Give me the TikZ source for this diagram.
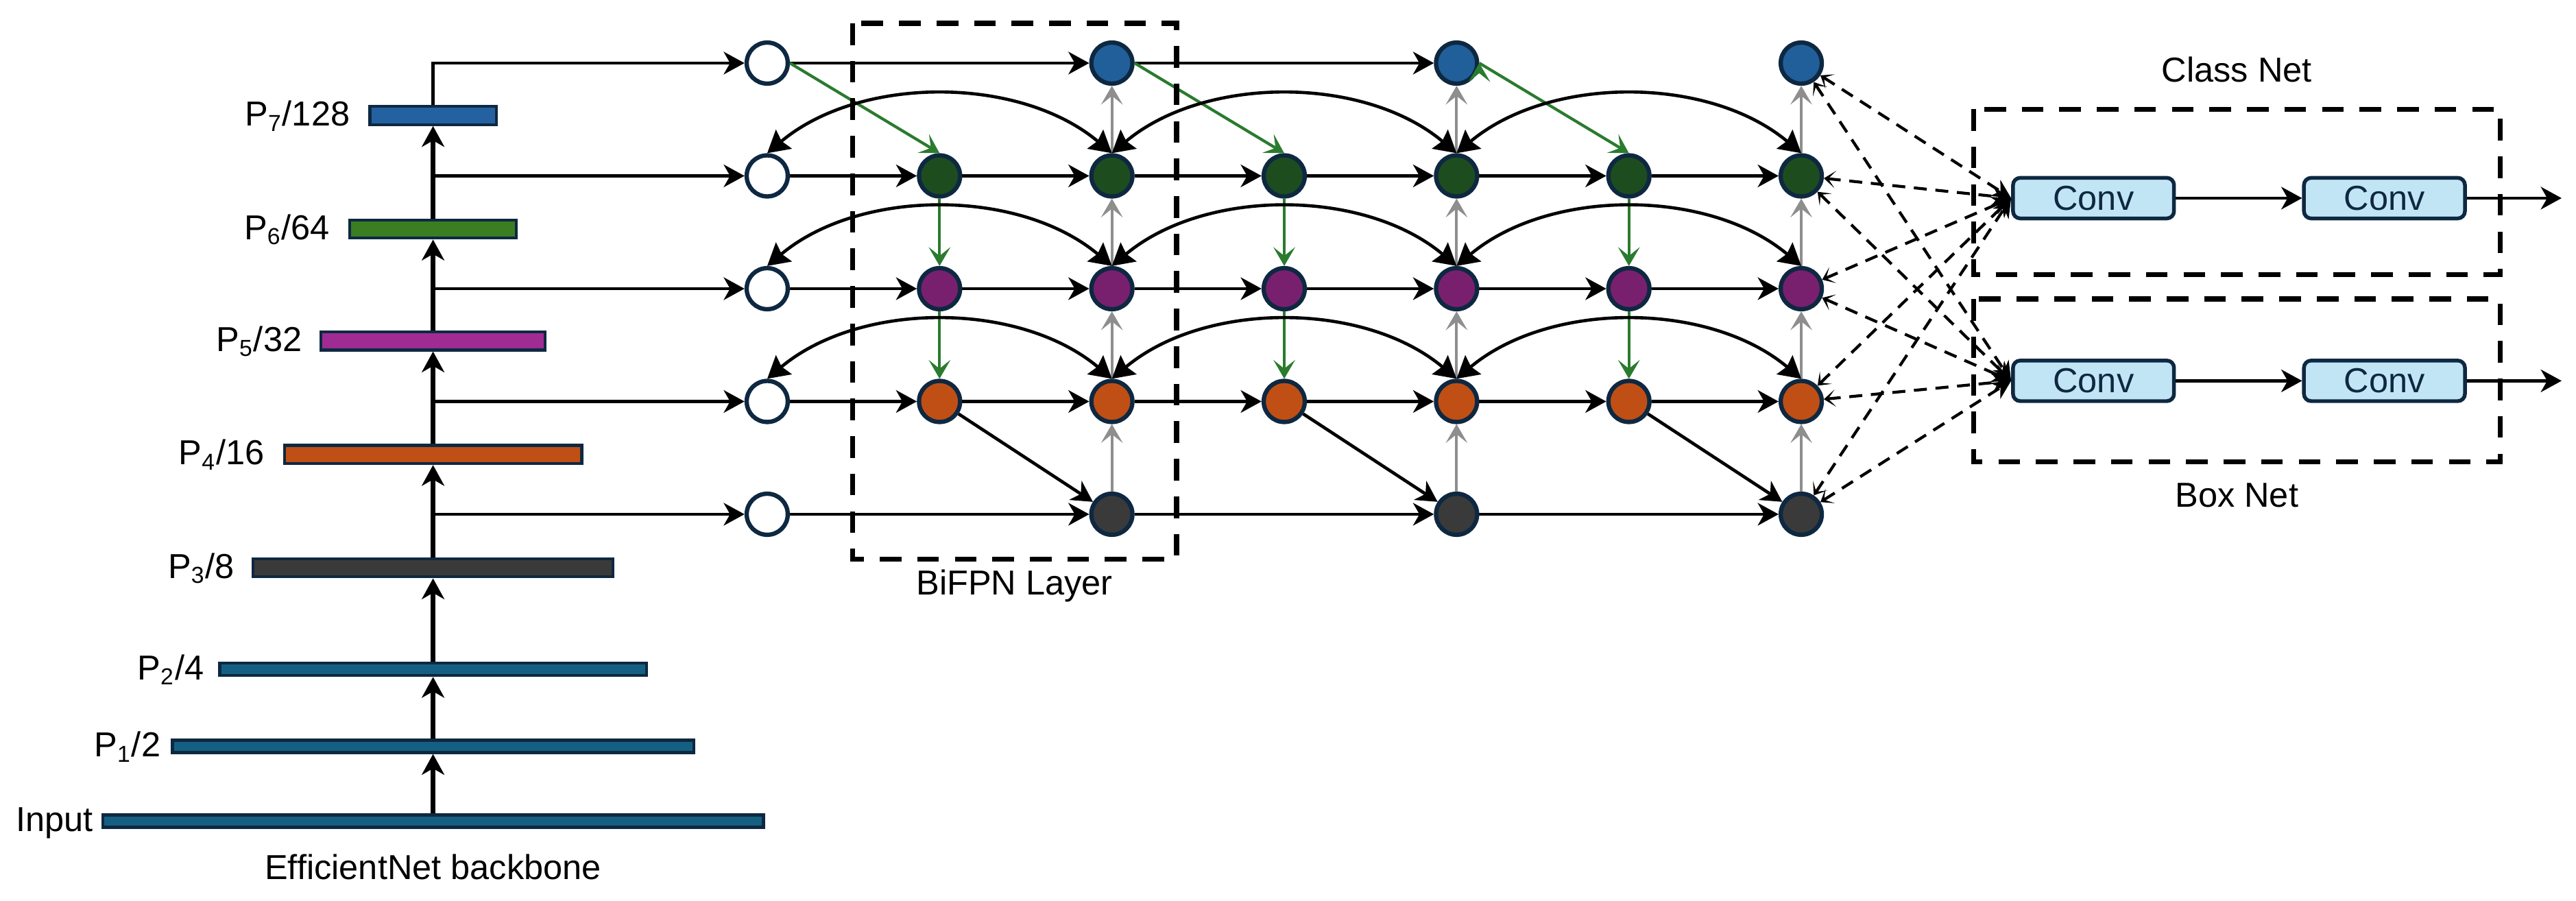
\documentclass[tikz,border=0pt]{standalone}
\usepackage{fontspec}
\setmainfont{Liberation Sans}
\usetikzlibrary{matrix, positioning, arrows.meta}

\definecolor{navy}{HTML}{0E2841}
\definecolor{lvl7}{HTML}{215F9A}
\definecolor{lvl6}{HTML}{1D4D1F}
\definecolor{lvl5}{HTML}{78206E}
\definecolor{lvl4}{HTML}{C04F15}
\definecolor{lvl3}{HTML}{3A3A3A}
\definecolor{bar7}{HTML}{2461A0}
\definecolor{bar6}{HTML}{3B7D23}
\definecolor{bar5}{HTML}{A02B93}
\definecolor{bar1}{HTML}{156082}
\definecolor{convblue}{HTML}{C2E5F5}
\definecolor{tdgreen}{HTML}{2A7B2E}
\definecolor{bugray}{HTML}{8E8E8E}

\tikzset{
  >={Stealth[length=7.2pt,width=7.8pt,inset=2.2pt]},
  lbl/.style={font=\fontsize{12}{14}\selectfont, inner sep=0pt, text height=0.72em, text depth=0pt},
  bar/.style={draw=navy, line width=1pt, minimum height=0.222cm, inner sep=0pt},
  thinbar/.style={bar, minimum height=0.15cm},
  trunk/.style={->, line width=1.7pt},
  fnode/.style={circle, draw=navy, line width=1.5pt, minimum size=0.5cm, inner sep=0pt},
  inp/.style={fill=white},
  k7/.style={fill=lvl7}, k6/.style={fill=lvl6}, k5/.style={fill=lvl5},
  k4/.style={fill=lvl4}, k3/.style={fill=lvl3},
  flow/.style={->, line width=1.1pt},
  tdflow/.style={color=tdgreen, line width=1pt, -{Stealth[length=6.5pt,width=7.5pt,inset=3pt]}},
  buflow/.style={color=bugray, line width=1pt, -{Stealth[length=6.5pt,width=7.5pt,inset=3pt]}},
  skipflow/.style={line width=1.1pt},
  skiparc/.style={out=40, in=140, looseness=0.9, {Stealth[length=7.5pt,width=8.5pt,inset=1pt]}-{Stealth[length=7.5pt,width=8.5pt,inset=1pt]}},
  dashbox/.style={line width=1.7pt, dash pattern=on 7.5pt off 5.5pt},
  feed/.style={line width=1pt, dash pattern=on 4.5pt off 3pt},
  feedtip/.style={{Stealth[length=4pt,width=6pt,inset=2.5pt]}-{Stealth[length=6.5pt,width=6.5pt]}},
  conv/.style={draw=navy, fill=convblue, line width=1.3pt, rounded corners=2.5pt, minimum width=1.96cm, minimum height=0.494cm, inner sep=0pt, text=navy, font=\fontsize{12}{14}\selectfont}
}

\begin{document}
\begin{tikzpicture}[x=0.2mm, y=-0.2mm]
\useasboundingbox (0,0) rectangle (1568,548);

% backbone
\node[bar, fill=bar7, minimum width=1.536cm] (p7) at (263.6,70.3) {};
\node[bar, fill=bar6, minimum width=2.026cm] (p6) at (263.6,139.4) {};
\node[bar, fill=bar5, minimum width=2.726cm] (p5) at (263.6,207.5) {};
\node[bar, fill=lvl4, minimum width=3.622cm] (p4) at (263.6,276.6) {};
\node[bar, fill=lvl3, minimum width=4.386cm] (p3) at (263.6,345.6) {};
\node[thinbar, fill=bar1, minimum width=5.194cm] (p2) at (263.6,407.4) {};
\node[thinbar, fill=bar1, minimum width=6.346cm] (p1) at (263.6,454.3) {};
\node[thinbar, fill=bar1, minimum width=8.046cm] (inbar) at (263.6,499.8) {};

\node[lbl, left=0.22cm of p7] (l7) {P\textsubscript{7}/128};
\node[lbl, left=0.22cm of p6] (l6) {P\textsubscript{6}/64};
\node[lbl, left=0.21cm of p5] (l5) {P\textsubscript{5}/32};
\node[lbl, left=0.22cm of p4] (l4) {P\textsubscript{4}/16};
\node[lbl, left=0.2cm of p3] (l3) {P\textsubscript{3}/8};
\node[lbl, left=0.17cm of p2] (l2) {P\textsubscript{2}/4};
\node[lbl, left=0.12cm of p1] (l1) {P\textsubscript{1}/2};
\node[lbl, left=0.09cm of inbar] (lin) {Input};
\node[lbl, below=0.36cm of inbar] (lback) {EfficientNet backbone};

\draw[trunk] (inbar) edge (p1) (p1) edge (p2) (p2) edge (p3) (p3) edge (p4)
  (p4) edge (p5) (p5) edge (p6) (p6) edge (p7);

% BiFPN grid
\matrix[matrix of nodes, ampersand replacement=\&, nodes={fnode},
        column sep={2.098cm,between origins}, row sep={1.373cm,between origins},
        matrix anchor=m-1-1.center] (m) at (467,38.4)
{
  |[inp]| \&         \& |[k7]| \&        \& |[k7]| \&        \& |[k7]| \\
  |[inp]| \& |[k6]| \& |[k6]| \& |[k6]| \& |[k6]| \& |[k6]| \& |[k6]| \\
  |[inp]| \& |[k5]| \& |[k5]| \& |[k5]| \& |[k5]| \& |[k5]| \& |[k5]| \\
  |[inp]| \& |[k4]| \& |[k4]| \& |[k4]| \& |[k4]| \& |[k4]| \& |[k4]| \\
  |[inp]| \&         \& |[k3]| \&        \& |[k3]| \&        \& |[k3]| \\
};

\draw[flow] (p7.north) |- (m-1-1);
\draw[flow] (p6.north |- m-2-1) -- (m-2-1);
\draw[flow] (p5.north |- m-3-1) -- (m-3-1);
\draw[flow] (p4.north |- m-4-1) -- (m-4-1);
\draw[flow] (p3.north |- m-5-1) -- (m-5-1);

\draw[flow] (m-1-1) edge (m-1-3) (m-1-3) edge (m-1-5)
  (m-2-1) edge (m-2-2) (m-2-2) edge (m-2-3) (m-2-3) edge (m-2-4) (m-2-4) edge (m-2-5) (m-2-5) edge (m-2-6) (m-2-6) edge (m-2-7)
  (m-3-1) edge (m-3-2) (m-3-2) edge (m-3-3) (m-3-3) edge (m-3-4) (m-3-4) edge (m-3-5) (m-3-5) edge (m-3-6) (m-3-6) edge (m-3-7)
  (m-4-1) edge (m-4-2) (m-4-2) edge (m-4-3) (m-4-3) edge (m-4-4) (m-4-4) edge (m-4-5) (m-4-5) edge (m-4-6) (m-4-6) edge (m-4-7)
  (m-5-1) edge (m-5-3) (m-5-3) edge (m-5-5) (m-5-5) edge (m-5-7)
  (m-4-2) edge (m-5-3) (m-4-4) edge (m-5-5) (m-4-6) edge (m-5-7);

\draw[tdflow] (m-1-1.east) edge (m-2-2.north) (m-2-2) edge (m-3-2) (m-3-2) edge (m-4-2)
  (m-1-3.east) edge (m-2-4.north) (m-2-4) edge (m-3-4) (m-3-4) edge (m-4-4)
  (m-1-5.east) edge (m-2-6.north) (m-2-6) edge (m-3-6) (m-3-6) edge (m-4-6);

\draw[buflow] (m-5-3) edge (m-4-3) (m-4-3) edge (m-3-3) (m-3-3) edge (m-2-3) (m-2-3) edge (m-1-3)
  (m-5-5) edge (m-4-5) (m-4-5) edge (m-3-5) (m-3-5) edge (m-2-5) (m-2-5) edge (m-1-5)
  (m-5-7) edge (m-4-7) (m-4-7) edge (m-3-7) (m-3-7) edge (m-2-7) (m-2-7) edge (m-1-7);

\draw[skipflow] (m-2-1.north) edge[skiparc] (m-2-3.north) (m-2-3.north) edge[skiparc] (m-2-5.north) (m-2-5.north) edge[skiparc] (m-2-7.north)
  (m-3-1.north) edge[skiparc] (m-3-3.north) (m-3-3.north) edge[skiparc] (m-3-5.north) (m-3-5.north) edge[skiparc] (m-3-7.north)
  (m-4-1.north) edge[skiparc] (m-4-3.north) (m-4-3.north) edge[skiparc] (m-4-5.north) (m-4-5.north) edge[skiparc] (m-4-7.north);

\draw[dashbox] (518.8,14.2) rectangle (716.2,340.2);
\node[lbl, anchor=north] (lbifpn) at (617.5,349) {BiFPN Layer};

% heads
\draw[dashbox] (1201.2,66.4) rectangle (1521.7,167);
\draw[dashbox] (1201.2,182) rectangle (1521.7,281);
\node[lbl] (lcls) at (1361.5,43.7) {Class Net};
\node[lbl] (lbox) at (1361.5,302.4) {Box Net};

\node[conv] (cls1) at (1274.3,120.6) {Conv};
\node[conv, right=1.536cm of cls1] (cls2) {Conv};
\node[conv] (box1) at (1274.3,231.8) {Conv};
\node[conv, right=1.536cm of box1] (box2) {Conv};
\coordinate[right=1.154cm of cls2] (clsout);
\coordinate[right=1.154cm of box2] (boxout);

\draw[flow] (cls1) edge (cls2) (cls2) edge (clsout)
  (box1) edge (box2) (box2) edge (boxout);

\draw[feed] (m-1-7) edge[feedtip] (cls1.west) (m-2-7) edge[feedtip] (cls1.west) (m-3-7) edge[feedtip] (cls1.west)
  (m-4-7) edge[feedtip] (cls1.west) (m-5-7) edge[feedtip] (cls1.west)
  (m-1-7) edge[feedtip] (box1.west) (m-2-7) edge[feedtip] (box1.west) (m-3-7) edge[feedtip] (box1.west)
  (m-4-7) edge[feedtip] (box1.west) (m-5-7) edge[feedtip] (box1.west);
\end{tikzpicture}
\end{document}
